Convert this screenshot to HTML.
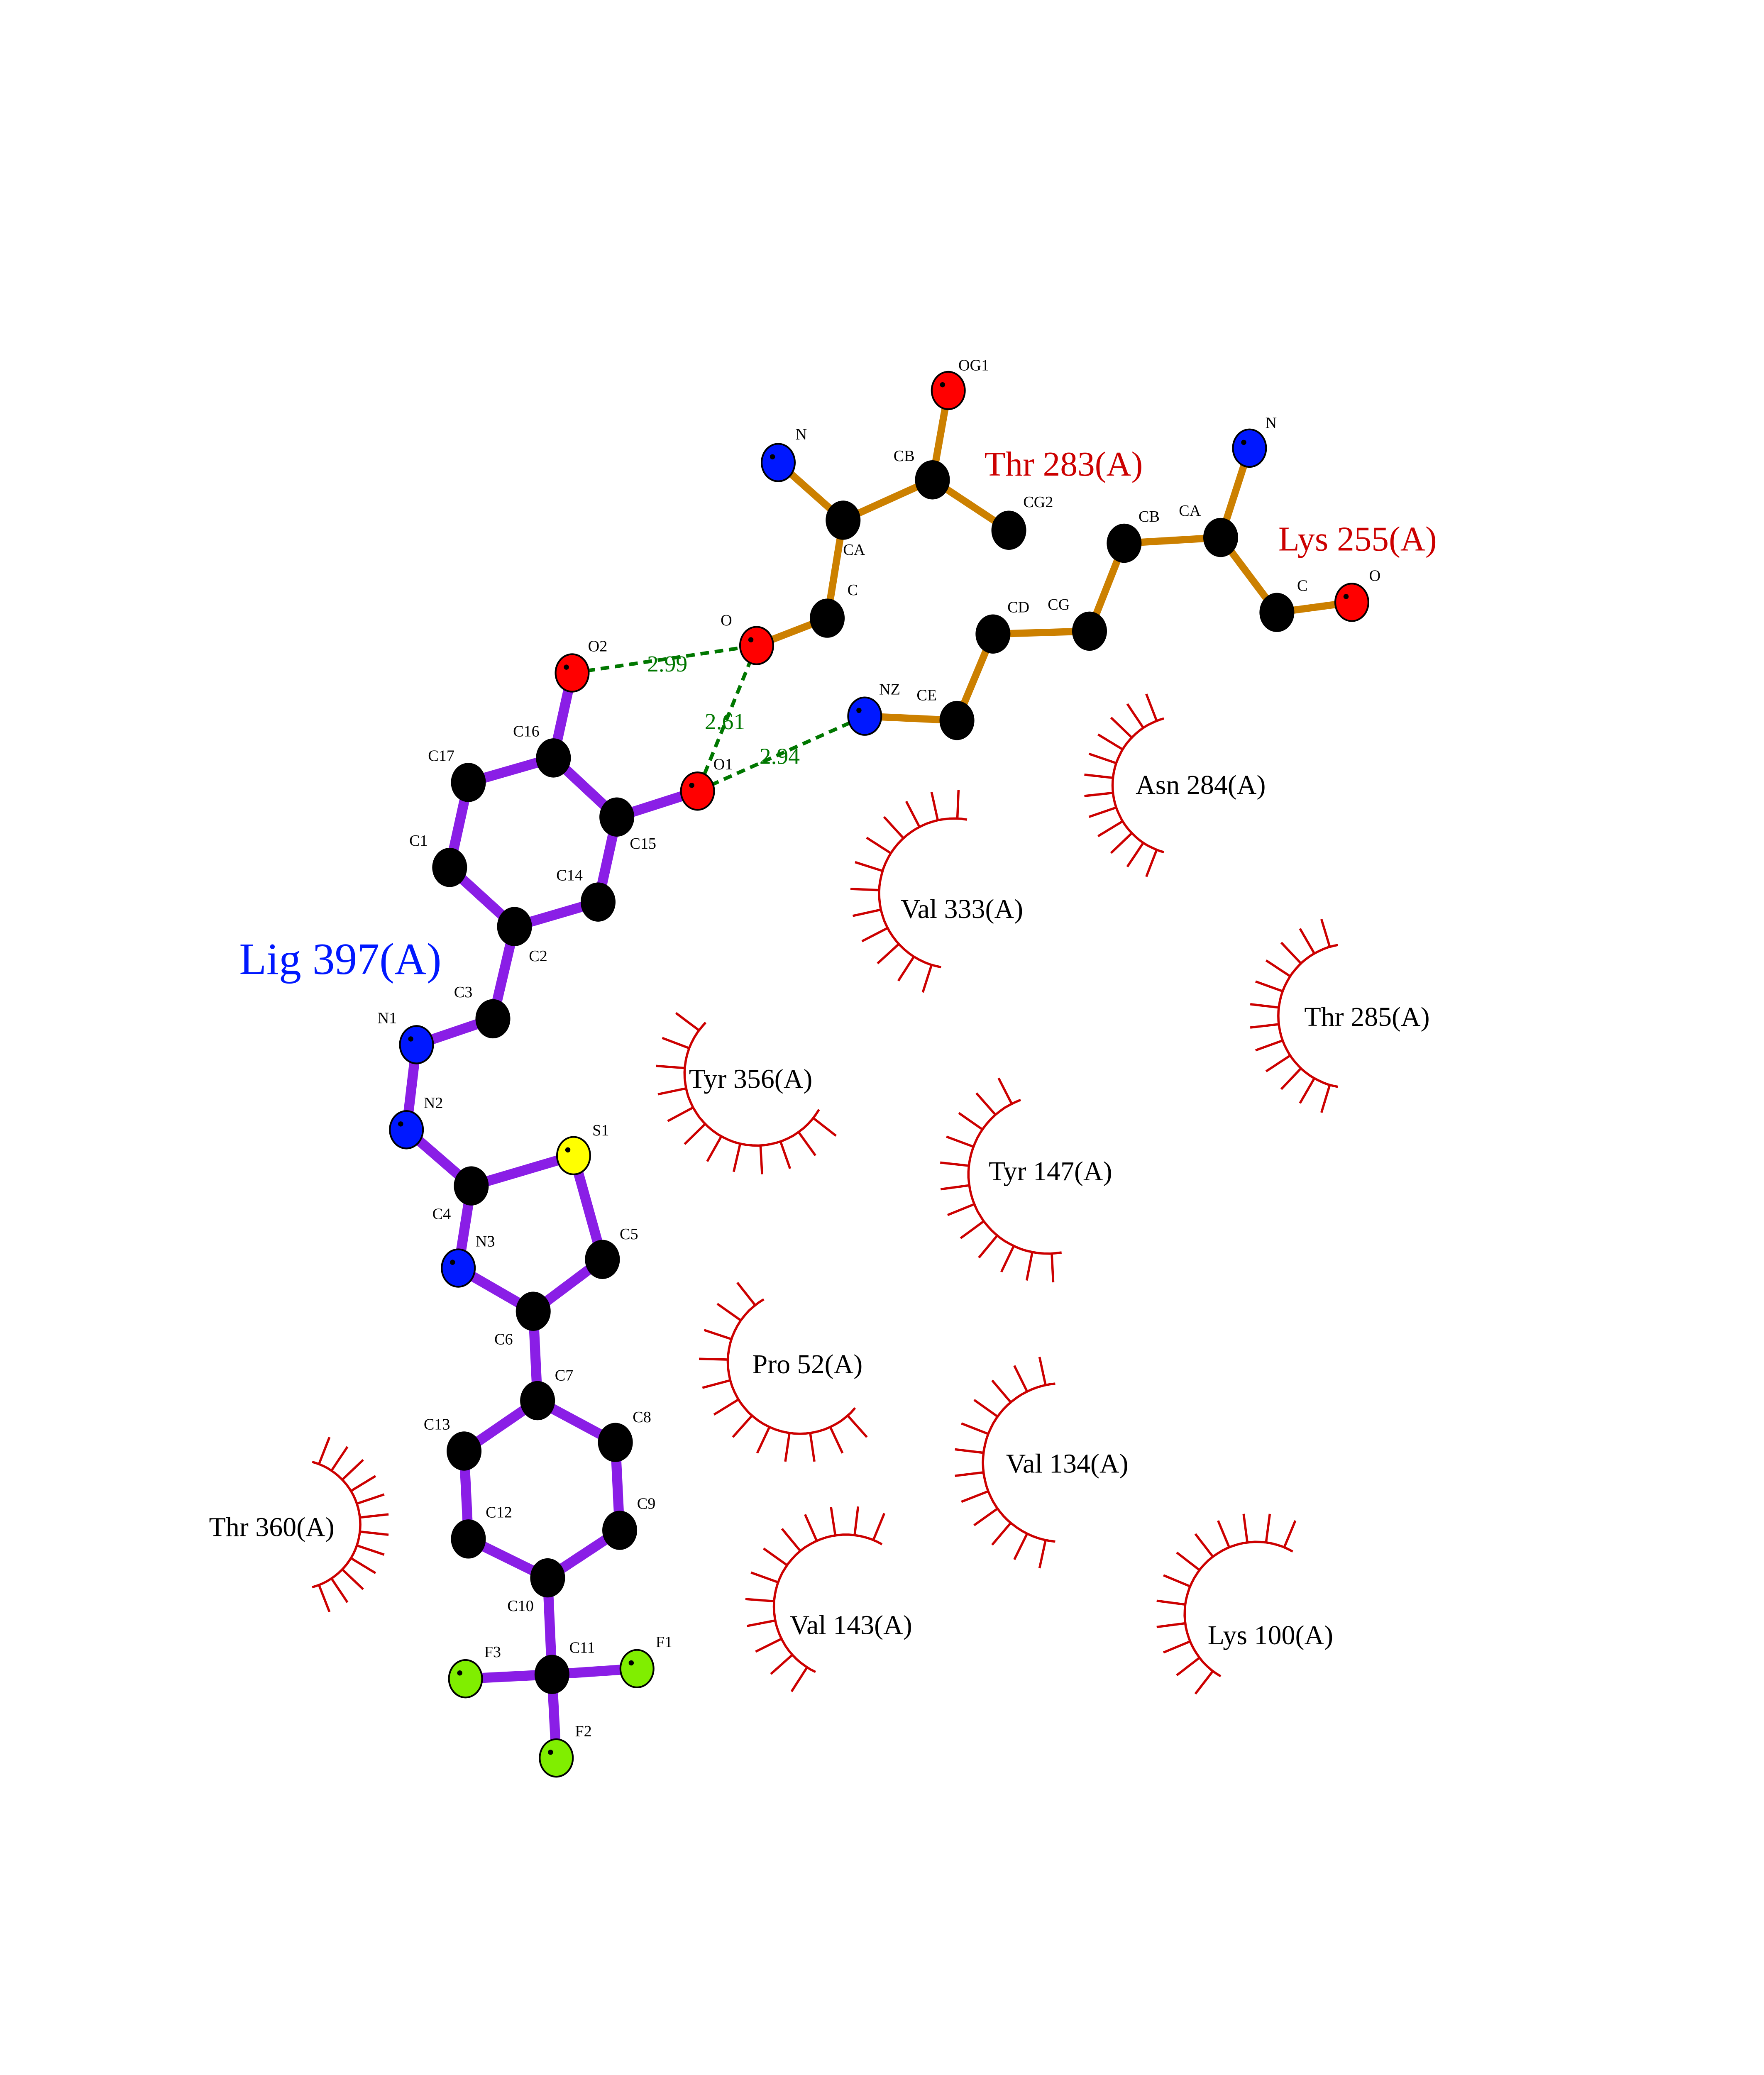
<!DOCTYPE html>
<html><head><meta charset="utf-8"><style>
html,body{margin:0;padding:0;background:#fff;width:4250px;height:5500px;overflow:hidden}
svg{display:block}
text{font-family:"Liberation Serif",serif}
</style></head><body>
<svg id="s" width="4250" height="5500" viewBox="0 0 1224 1584" xmlns="http://www.w3.org/2000/svg">
<rect width="1224" height="1584" fill="#fff"/>
<g id="arcs" stroke="#cc0000" stroke-width="1.6" fill="none"></g>
<g id="bonds" stroke-linecap="round"></g>
<g id="hb" stroke="#007700" stroke-width="2.5" stroke-dasharray="6,4"></g>
<g id="atoms"></g>
<g id="labels"></g>
</svg>
<script>
const NS="http://www.w3.org/2000/svg";
function el(p,t,a,txt){const e=document.createElementNS(NS,t);for(const k in a)e.setAttribute(k,a[k]);if(txt!==undefined)e.textContent=txt;document.getElementById(p).appendChild(e);return e;}
const A={
 tN:[540,321,'b'],tCA:[585,361,'k'],tCB:[647,333,'k'],tOG1:[658,271,'r'],tCG2:[700,368,'k'],tC:[574,429,'k'],tO:[525,448,'r'],
 kN:[867,311,'b'],kCA:[847,373,'k'],kCB:[780,377,'k'],kCG:[756,438,'k'],kCD:[689,440,'k'],kCE:[664,500,'k'],kNZ:[600,497,'b'],kC:[886,425,'k'],kO:[938,418,'r'],
 O2:[397,467,'r'],C16:[384,526,'k'],C17:[325,543,'k'],C1:[312,602,'k'],C2:[357,643,'k'],C14:[415,626,'k'],C15:[428,567,'k'],O1:[484,549,'r'],
 C3:[342,707,'k'],N1:[289,725,'b'],N2:[282,784,'b'],C4:[327,823,'k'],S1:[398,802,'y'],C5:[418,874,'k'],N3:[318,880,'b'],C6:[370,910,'k'],
 C7:[373,972,'k'],C8:[427,1001,'k'],C9:[430,1062,'k'],C10:[380,1095,'k'],C12:[325,1068,'k'],C13:[322,1007,'k'],C11:[383,1162,'k'],
 F3:[323,1165,'g'],F1:[442,1158,'g'],F2:[386,1220,'g']};
const rb=[['tN','tCA'],['tCA','tCB'],['tCB','tOG1'],['tCB','tCG2'],['tCA','tC'],['tC','tO'],
 ['kN','kCA'],['kCA','kCB'],['kCB','kCG'],['kCG','kCD'],['kCD','kCE'],['kCE','kNZ'],['kCA','kC'],['kC','kO']];
const lb=[['O2','C16'],['C16','C17'],['C17','C1'],['C1','C2'],['C2','C14'],['C14','C15'],['C15','C16'],['C15','O1'],['C2','C3'],['C3','N1'],['N1','N2'],['N2','C4'],['C4','S1'],['S1','C5'],['C5','C6'],['C6','N3'],['N3','C4'],['C6','C7'],['C7','C8'],['C8','C9'],['C9','C10'],['C10','C12'],['C12','C13'],['C13','C7'],['C10','C11'],['C11','F3'],['C11','F1'],['C11','F2']];
rb.forEach(b=>el('bonds','line',{x1:A[b[0]][0],y1:A[b[0]][1],x2:A[b[1]][0],y2:A[b[1]][1],stroke:'#cc8000','stroke-width':5}));
lb.forEach(b=>el('bonds','line',{x1:A[b[0]][0],y1:A[b[0]][1],x2:A[b[1]][0],y2:A[b[1]][1],stroke:'#8a1ee6','stroke-width':7}));
[['O2','tO'],['tO','O1'],['O1','kNZ']].forEach(b=>el('hb','line',{x1:A[b[0]][0],y1:A[b[0]][1],x2:A[b[1]][0],y2:A[b[1]][1]}));
const col={k:'#000',b:'#0018ff',r:'#ff0000',y:'#ffff00',g:'#80ee00'};
for(const k in A){const [x,y,c]=A[k];el('atoms','ellipse',{cx:x,cy:y,rx:11.5,ry:13,fill:col[c],stroke:'#000','stroke-width':1.2});el('atoms','circle',{cx:x-4,cy:y-4,r:1.8,fill:'#000'});}
const al=[['N',552,305],['CA',585,385],['CB',620,320],['OG1',665,257],['CG2',710,352],['C',588,413],['O',500,434],
['N',878,297],['CA',818,358],['CB',790,362],['CG',727,423],['CD',699,425],['CE',636,486],['NZ',610,482],['C',900,410],['O',950,403],
['O2',408,452],['C16',356,511],['C17',297,528],['C1',284,587],['C2',367,667],['C14',386,611],['C15',437,589],['O1',495,534],
['C3',315,692],['N1',262,710],['N2',294,769],['C4',300,846],['S1',411,788],['C5',430,860],['N3',330,865],['C6',343,933],
['C7',385,958],['C8',439,987],['C9',442,1047],['C10',352,1118],['C12',337,1053],['C13',294,992],['C11',395,1147],['F3',336,1150],['F1',455,1143],['F2',399,1205]];
al.forEach(a=>el('labels','text',{x:a[1],y:a[2],'font-size':11},a[0]));
el('labels','text',{x:449,y:466,'font-size':16,fill:'#007700'},'2.99');
el('labels','text',{x:489,y:506,'font-size':16,fill:'#007700'},'2.61');
el('labels','text',{x:527,y:530,'font-size':16,fill:'#007700'},'2.94');
el('labels','text',{x:683,y:330,'font-size':24,fill:'#cc0000'},'Thr 283(A)');
el('labels','text',{x:887,y:382,'font-size':24,fill:'#cc0000'},'Lys 255(A)');
el('labels','text',{x:166,y:676,'font-size':31,fill:'#0018ff'},'Lig 397(A)');
el('labels','text',{x:58,y:1470,'font-size':14},'.');
const H=[['Asn 284(A)',788,551,820,545,48,105,255],['Val 333(A)',625,637,662,620,52,100,280],['Thr 285(A)',905,712,937,705,50,100,260],
['Tyr 356(A)',478,755,525,745,50,30,225],['Tyr 147(A)',686,819,727,815,55,80,250],['Pro 52(A)',522,953,555,945,50,40,240],
['Val 134(A)',698,1022,737,1015,55,95,265],['Thr 360(A)',145,1066,205,1058,45,-75,75],['Val 143(A)',548,1134,587,1115,50,115,300],['Lys 100(A)',838,1141,872,1120,50,120,300]];
H.forEach(h=>{const [t,tx,ty,cx,cy,r,a0,a1]=h;
 el('labels','text',{x:tx,y:ty,'font-size':19},t);
 let d='';const n=12;
 for(let i=0;i<=40;i++){const a=(a0+(a1-a0)*i/40)*Math.PI/180;d+=(i?'L':'M')+(cx+r*Math.cos(a)).toFixed(1)+','+(cy+r*Math.sin(a)).toFixed(1);}
 for(let i=0;i<n;i++){const a=(a0+(a1-a0)*(i+0.5)/n)*Math.PI/180;d+='M'+(cx+r*Math.cos(a)).toFixed(1)+','+(cy+r*Math.sin(a)).toFixed(1)+'L'+(cx+(r+20)*Math.cos(a)).toFixed(1)+','+(cy+(r+20)*Math.sin(a)).toFixed(1);}
 el('arcs','path',{d:d});});
</script>
</body></html>
